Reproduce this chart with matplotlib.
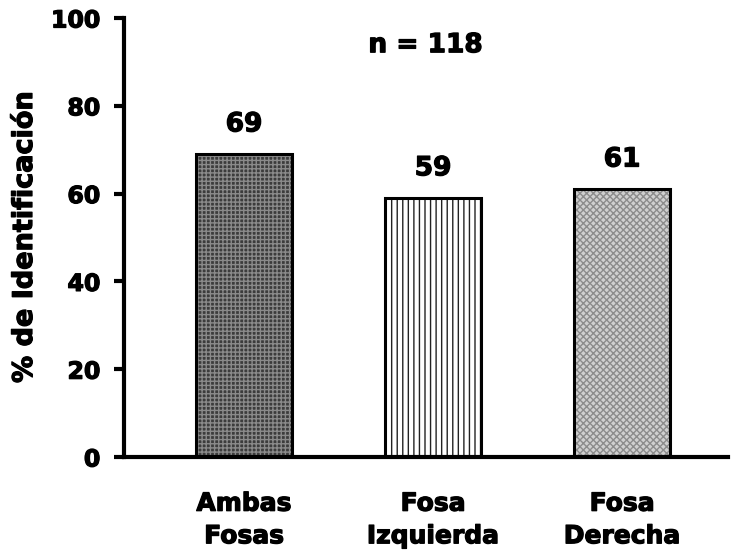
import matplotlib.pyplot as plt
import matplotlib.patheffects as pe

categorias = ['Ambas\nFosas', 'Fosa\nIzquierda', 'Fosa\nDerecha']
porcentajes = [69, 59, 61]
n_total = 118

plt.rcParams['font.family'] = 'DejaVu Sans'
plt.rcParams['font.weight'] = 'bold'
plt.rcParams['hatch.linewidth'] = 1.0

# trazo fino para engrosar un poco la letra
grueso = [pe.withStroke(linewidth=0.9, foreground='black')]

fig = plt.figure(figsize=(7.32, 5.53), dpi=100)
ax = fig.add_axes([124 / 732, 1 - 457 / 553, (728 - 124) / 732, (457 - 18) / 553])

x = range(len(categorias))
ancho = 0.51
# relleno de cada barra (trama + color), luego el borde negro encima
estilos = [('#3c3c3c', '#8a8a8a', '++++'),
           ('white', '#222222', '|||'),
           ('#d0d0d0', '#8c8c8c', 'xxxxx')]
for xi, val, (fc, hc, hatch) in zip(x, porcentajes, estilos):
    ax.bar(xi, val, width=ancho, color=fc, edgecolor=hc, hatch=hatch, linewidth=0)
    ax.bar(xi, val, width=ancho, fill=False, edgecolor='black', linewidth=2.2)
    ax.text(xi, val + 3.8, str(val), ha='center', va='bottom', fontsize=19,
            fontweight='bold', path_effects=grueso)

ax.text(0.96, 93.8, f'n = {n_total}', ha='center', va='center', fontsize=19,
        fontweight='bold', path_effects=grueso)

ax.set_xlim(-0.635, 2.56)
ax.set_ylim(0, 100)
ax.set_yticks([0, 20, 40, 60, 80, 100])
ax.set_xticks(list(x))
ax.set_xticklabels(categorias, fontsize=18, fontweight='bold', linespacing=1.45)
ax.tick_params(axis='x', length=0, pad=25)
ax.tick_params(axis='y', length=7, width=3, labelsize=17, pad=10)
ax.set_ylabel('% de Identificación', fontsize=19.5, fontweight='bold')
ax.yaxis.set_label_coords(-(124 - 38) / 604, 1 - (237 - 18) / 439)

for lbl in ax.get_xticklabels() + ax.get_yticklabels() + [ax.yaxis.label]:
    lbl.set_path_effects(grueso)

for s in ['top', 'right']:
    ax.spines[s].set_visible(False)
for s in ['left', 'bottom']:
    ax.spines[s].set_linewidth(3)

fig.savefig('out.png', dpi=100)
